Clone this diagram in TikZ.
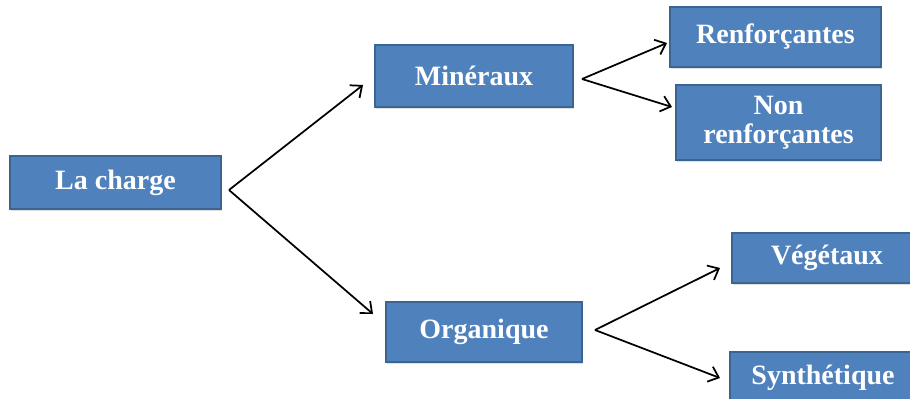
\documentclass[tikz,border=0pt]{standalone}
\usepackage{fontspec}
\setmainfont{Liberation Serif}
\usetikzlibrary{arrows.meta,shadows}
\definecolor{boxfill}{HTML}{4F81BD}
\definecolor{boxedge}{HTML}{3A6491}
\tikzset{
  box/.style={rectangle, fill=boxfill, draw=boxedge, line width=1.5pt,
    text=white, font=\fontsize{21}{23}\selectfont\bfseries, align=center,
    inner sep=0pt,
    drop shadow={shadow xshift=0.8pt, shadow yshift=-1.5pt, opacity=0.25}},
  arr/.style={draw=black, line width=1.3pt, -{Straight Barb[length=7pt,width=12pt,line width=1.3pt]}}
}
\begin{document}
\begin{tikzpicture}[x=0.75pt,y=-0.75pt]
\useasboundingbox (0,0) rectangle (910,399);
\clip (0,0) rectangle (910,399);
\node[box, minimum width=158.25pt, minimum height=39pt] (charge) at (115.5,182.5) {La charge};
\node[box, minimum width=148.5pt, minimum height=46.5pt] (min) at (474,76) {Minéraux};
\node[box, minimum width=158.25pt, minimum height=45pt] (renf) at (775.5,37) {Renforçantes};
\node[box, minimum width=153.75pt, minimum height=56.25pt] (nonrenf) at (778.5,122.5) {Non\\[-1pt]renforçantes};
\node[box, minimum width=147pt, minimum height=45pt] (org) at (484,332) {Organique};
\node[box, minimum width=142.5pt, minimum height=37.5pt] (veg) at (827,258) {Végétaux};
\node[box, minimum width=139.5pt, minimum height=39pt] (syn) at (823,378) {Synthétique};
% fork points and arrow ends
\coordinate (f1) at (229,190);
\coordinate (e1) at (363,85);
\coordinate (e2) at (373,314);
\coordinate (f2) at (582,79);
\coordinate (e3) at (667,43);
\coordinate (e4) at (672,107);
\coordinate (f3) at (595,330);
\coordinate (e5) at (720,268);
\coordinate (e6) at (720,378);
\draw[arr] (f1) -- (e1);
\draw[arr] (f1) -- (e2);
\draw[arr] (f2) -- (e3);
\draw[arr] (f2) -- (e4);
\draw[arr] (f3) -- (e5);
\draw[arr] (f3) -- (e6);
\end{tikzpicture}
\end{document}
